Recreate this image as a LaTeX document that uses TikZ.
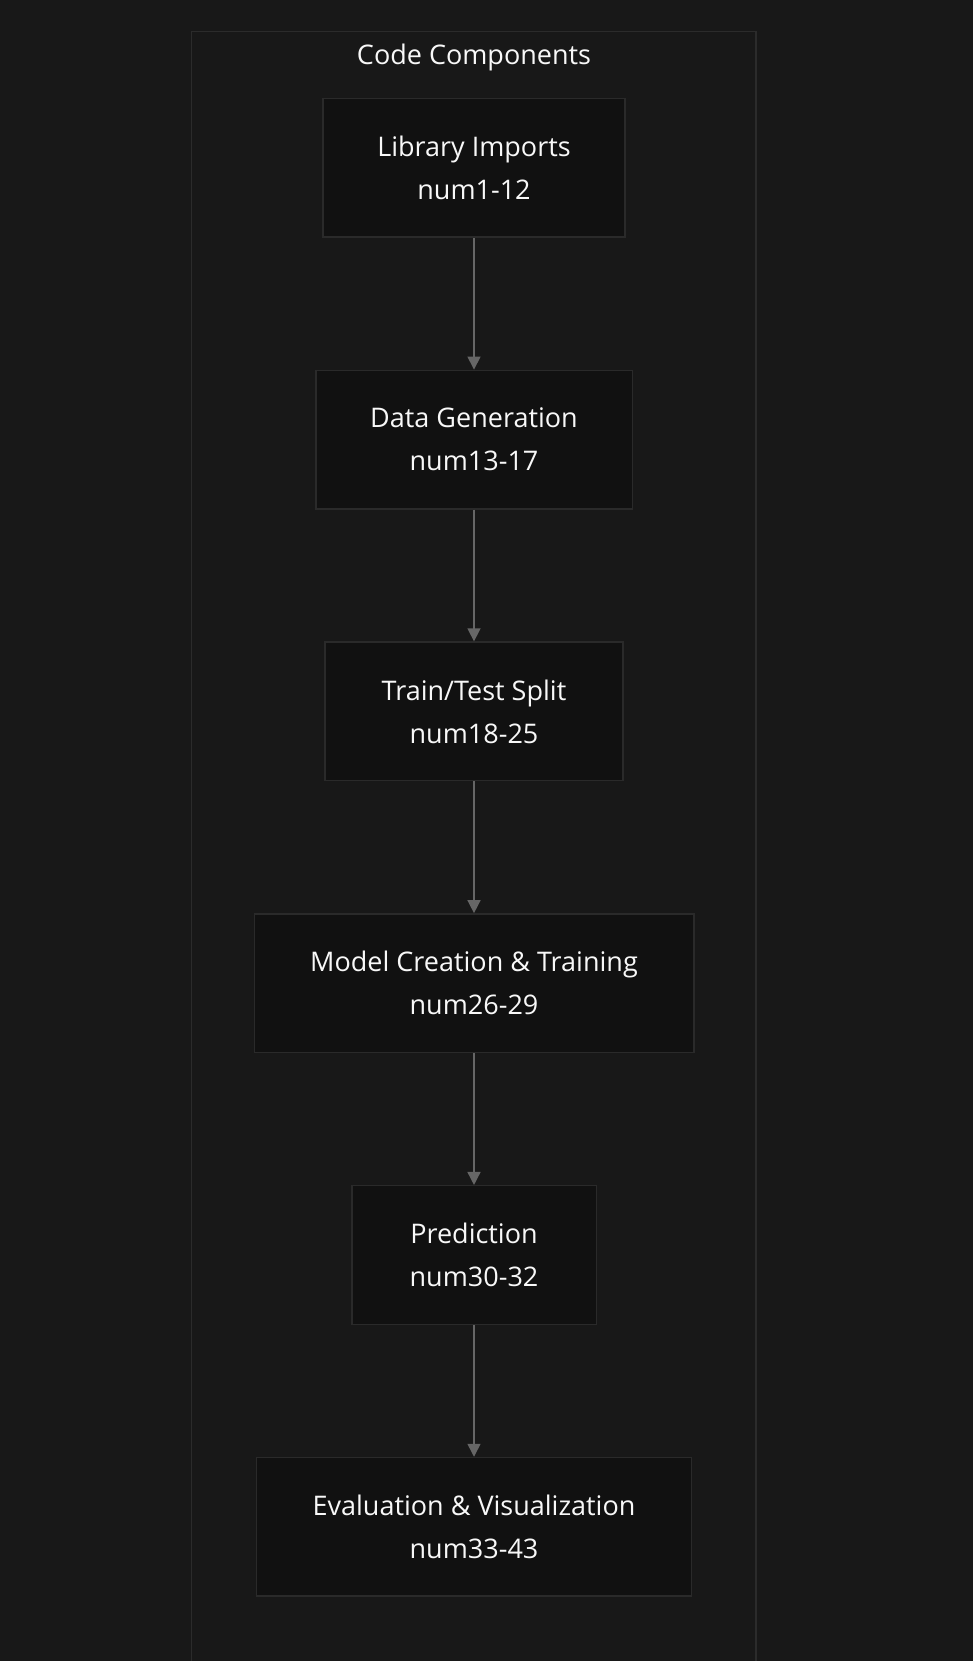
\documentclass[tikz,border=0pt]{standalone}
\usepackage{fontspec}
\setmainfont{Open Sans}
\usepackage{tikz}
\usetikzlibrary{arrows.meta}
\definecolor{bgcol}{HTML}{181818}
\definecolor{groupline}{HTML}{2B2B2B}
\definecolor{boxfill}{HTML}{111111}
\definecolor{boxline}{HTML}{2A2A2A}
\definecolor{flowline}{HTML}{666666}
\definecolor{labeltext}{HTML}{F8F8F8}
\tikzstyle{component}=[
        draw=boxline,
        line width=1.5pt,
        fill=boxfill,
        text=labeltext,
        minimum height=138.6pt,
        align=center,
        font=\fontsize{27}{43}\selectfont
]
\tikzstyle{flow}=[
        draw=flowline,
        line width=1.5pt,
        -{Triangle[width=13pt,length=13pt]}
]

\begin{document}
\begin{tikzpicture}[x=1pt,y=-1pt]
                        \fill[bgcol] (0,0) rectangle (973,1661);
                        \useasboundingbox (0,0) rectangle (973,1661);

                        \draw[groupline, line width=1.5pt] (191.5,1661) -- (191.5,31.5) -- (756,31.5) -- (756,1661);
                        \node[text=labeltext, font=\fontsize{27}{32}\selectfont] (title) at (474,57) {Code Components};

                        \node[component, minimum width=302pt] (imports) at (474,167.8) {Library Imports\\num1-12};
                        \node[component, minimum width=316.5pt] (datagen) at (474,439.6) {Data Generation\\num13-17};
                        \node[component, minimum width=297.6pt] (split) at (474,711.4) {Train/Test Split\\num18-25};
                        \node[component, minimum width=439.5pt] (training) at (474,983.2) {Model Creation \& Training\\num26-29};
                        \node[component, minimum width=244.5pt] (prediction) at (474,1255) {Prediction\\num30-32};
                        \node[component, minimum width=435.4pt] (evaluation) at (474,1526.8) {Evaluation \& Visualization\\num33-43};

                        \foreach \a/\b in {imports/datagen, datagen/split, split/training, training/prediction, prediction/evaluation} {
                            \draw[flow] (\a) -- (\b);
                        }

                    \end{tikzpicture}
\end{document}
